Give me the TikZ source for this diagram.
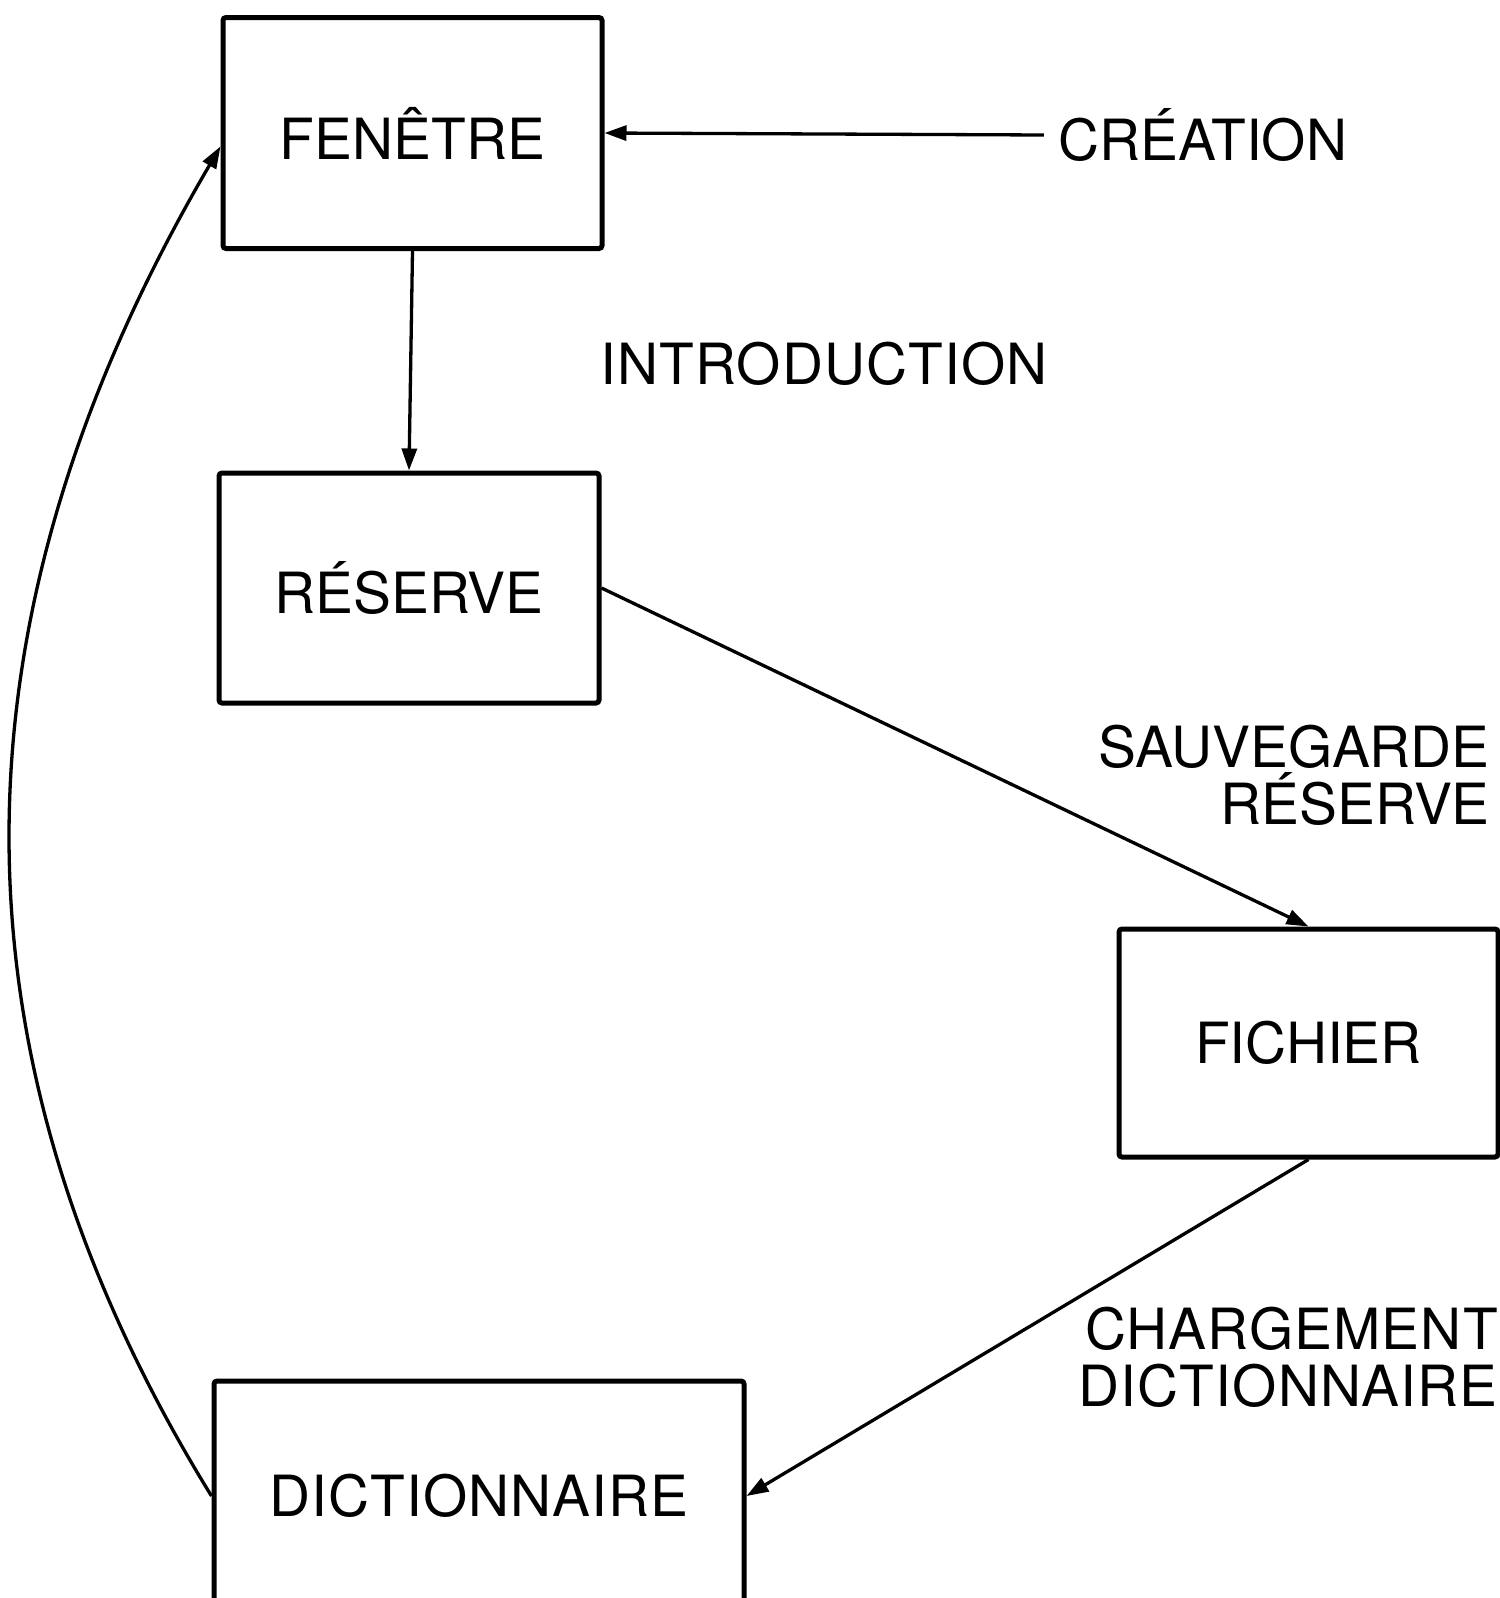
\documentclass[tikz,border=0pt]{standalone}
\usepackage{fontspec}
\setmainfont{TeX Gyre Heros}
\usetikzlibrary{arrows.meta}
\tikzset{
  box/.style={draw, line width=5pt, rounded corners=3pt, inner sep=0pt,
    font=\fontsize{56.8}{57}\selectfont},
  lbl/.style={inner sep=4pt, align=right,
    font=\fontsize{56.8}{57}\selectfont},
  wide/.style={font=\fontsize{56.8}{57}\selectfont\addfontfeatures{LetterSpace=2}},
  arr/.style={line width=3.3pt, -{Triangle[length=22pt,width=15pt]}},
}
\begin{document}
\begin{tikzpicture}[x=1pt,y=-1pt]
\useasboundingbox (0,0) rectangle (1499,1598);
\node[box, minimum width=379pt, minimum height=231pt] (fen) at (412.5,133) {FENÊTRE};
\node[box, minimum width=380pt, minimum height=230pt] (res) at (409,588) {RÉSERVE};
\node[box, minimum width=379pt, minimum height=228pt] (fich) at (1308.5,1043) {FICHIER};
\node[box, wide, minimum width=530pt, minimum height=230pt] (dict) at (479,1496) {DICTIONNAIRE};
\node[lbl, inner xsep=15pt] (crea) at (1203,135) {CRÉATION};
\node[lbl, wide] (intro) at (824,364) {INTRODUCTION};
\node[lbl, anchor=east] (sauv) at (1494,775) {SAUVEGARDE\\RÉSERVE};
\node[lbl, wide, anchor=east] (charg) at (1502,1357) {CHARGEMENT\\DICTIONNAIRE};
\draw[arr] (crea.west) -- (fen.east);
\draw[arr] (fen.south) -- (res.north);
\draw[arr] (res.east) -- (fich.north);
\draw[arr] (fich.south) -- (dict.east);
\draw[arr] (dict.west) .. controls (-68.8,1041.3) and (-47.4,603.4) .. (fen.184);
\end{tikzpicture}
\end{document}
